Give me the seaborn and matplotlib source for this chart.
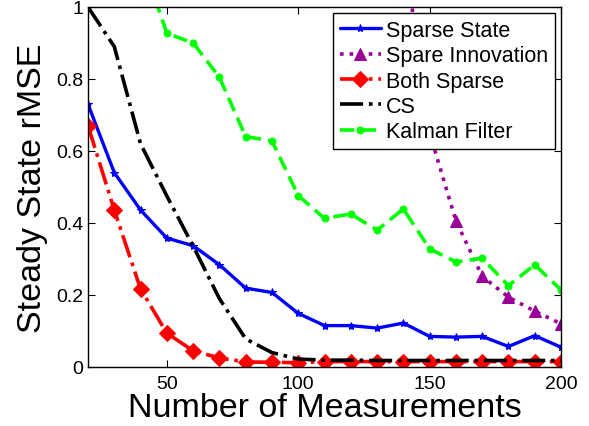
import matplotlib
matplotlib.use('Agg')
import matplotlib.pyplot as plt
import seaborn as sns
import numpy as np

# measurement counts
measurements = [20, 30, 40, 50, 60, 70, 80, 90, 100, 110,
                120, 130, 140, 150, 160, 170, 180, 190, 200]

sparse_state = [0.73, 0.54, 0.436, 0.358, 0.337, 0.284, 0.219, 0.207, 0.149, 0.115,
                0.115, 0.108, 0.122, 0.085, 0.083, 0.085, 0.057, 0.087, 0.055]
spare_innovation = [3.2, 2.9, 2.6, 2.4, 2.2, 2.0, 1.85, 1.7, 1.6, 1.5,
                    1.4, 1.3, 1.17, 0.65, 0.406, 0.252, 0.194, 0.155, 0.12]
both_sparse = [0.67, 0.436, 0.217, 0.094, 0.045, 0.025, 0.014, 0.013, 0.012, 0.015,
               0.015, 0.015, 0.015, 0.015, 0.015, 0.015, 0.015, 0.015, 0.015]
cs = [1.0, 0.89, 0.62, 0.475, 0.336, 0.19, 0.078, 0.04, 0.022, 0.019,
      0.019, 0.018, 0.018, 0.018, 0.018, 0.018, 0.018, 0.018, 0.018]
kalman = [1.5, 1.3, 1.14, 0.927, 0.9, 0.805, 0.64, 0.628, 0.476, 0.413,
          0.425, 0.38, 0.439, 0.328, 0.292, 0.302, 0.226, 0.284, 0.214]

sns.set_style('ticks')
plt.rcParams['font.family'] = ['Liberation Sans', 'DejaVu Sans']

fig = plt.figure(figsize=(5.89, 4.27), dpi=100)
ax = fig.add_axes([0.1494, 0.1382, 0.8031, 0.8431])

sns.lineplot(x=measurements, y=sparse_state, ax=ax, color='#0000ff', lw=2.4,
             marker='*', markersize=6, markeredgecolor='#0000ff', label='Sparse State')
sns.lineplot(x=measurements, y=spare_innovation, ax=ax, color='#990099', lw=2.6,
             marker='^', markersize=9, markeredgecolor='#990099',
             label='Spare Innovation')
ax.lines[-1].set_linestyle(':')
sns.lineplot(x=measurements, y=both_sparse, ax=ax, color='#ff0000', lw=2.6,
             marker='D', markersize=8, markeredgecolor='#ff0000', label='Both Sparse')
ax.lines[-1].set_linestyle('-.')
sns.lineplot(x=measurements, y=cs, ax=ax, color='black', lw=2.6, label='CS')
ax.lines[-1].set_linestyle('-.')
sns.lineplot(x=measurements, y=kalman, ax=ax, color='#00ff00', lw=2.6,
             marker='o', markersize=5, markeredgecolor='#00ff00', label='Kalman Filter')
ax.lines[-1].set_linestyle((0, (4, 2)))

ax.set_xlim(20, 200)
ax.set_ylim(0, 1)
ax.set_xticks([50, 100, 150, 200])
ax.set_yticks([0, 0.2, 0.4, 0.6, 0.8, 1])
ax.set_yticklabels(['0', '0.2', '0.4', '0.6', '0.8', '1'])
ax.tick_params(direction='in', top=True, right=True, labelsize=14, length=5,
               width=0.8, colors='black')
ax.tick_params(axis='x', pad=6)
for sp in ax.spines.values():
    sp.set_linewidth(1.0)
    sp.set_color('black')

ax.set_xlabel('Number of Measurements', fontsize=24.5, labelpad=0, color='black')
ax.set_ylabel('Steady State rMSE', fontsize=24.5, labelpad=6, color='black')

leg = ax.legend(loc='upper right', fontsize=15.5, frameon=True, fancybox=False,
                edgecolor='black', framealpha=1, borderaxespad=0.3,
                handlelength=1.9, handletextpad=0.25, labelspacing=0.2,
                borderpad=0.3)
leg.get_frame().set_linewidth(1.0)
for t in leg.get_texts():
    t.set_color('black')

fig.savefig('out.png', dpi=100)
